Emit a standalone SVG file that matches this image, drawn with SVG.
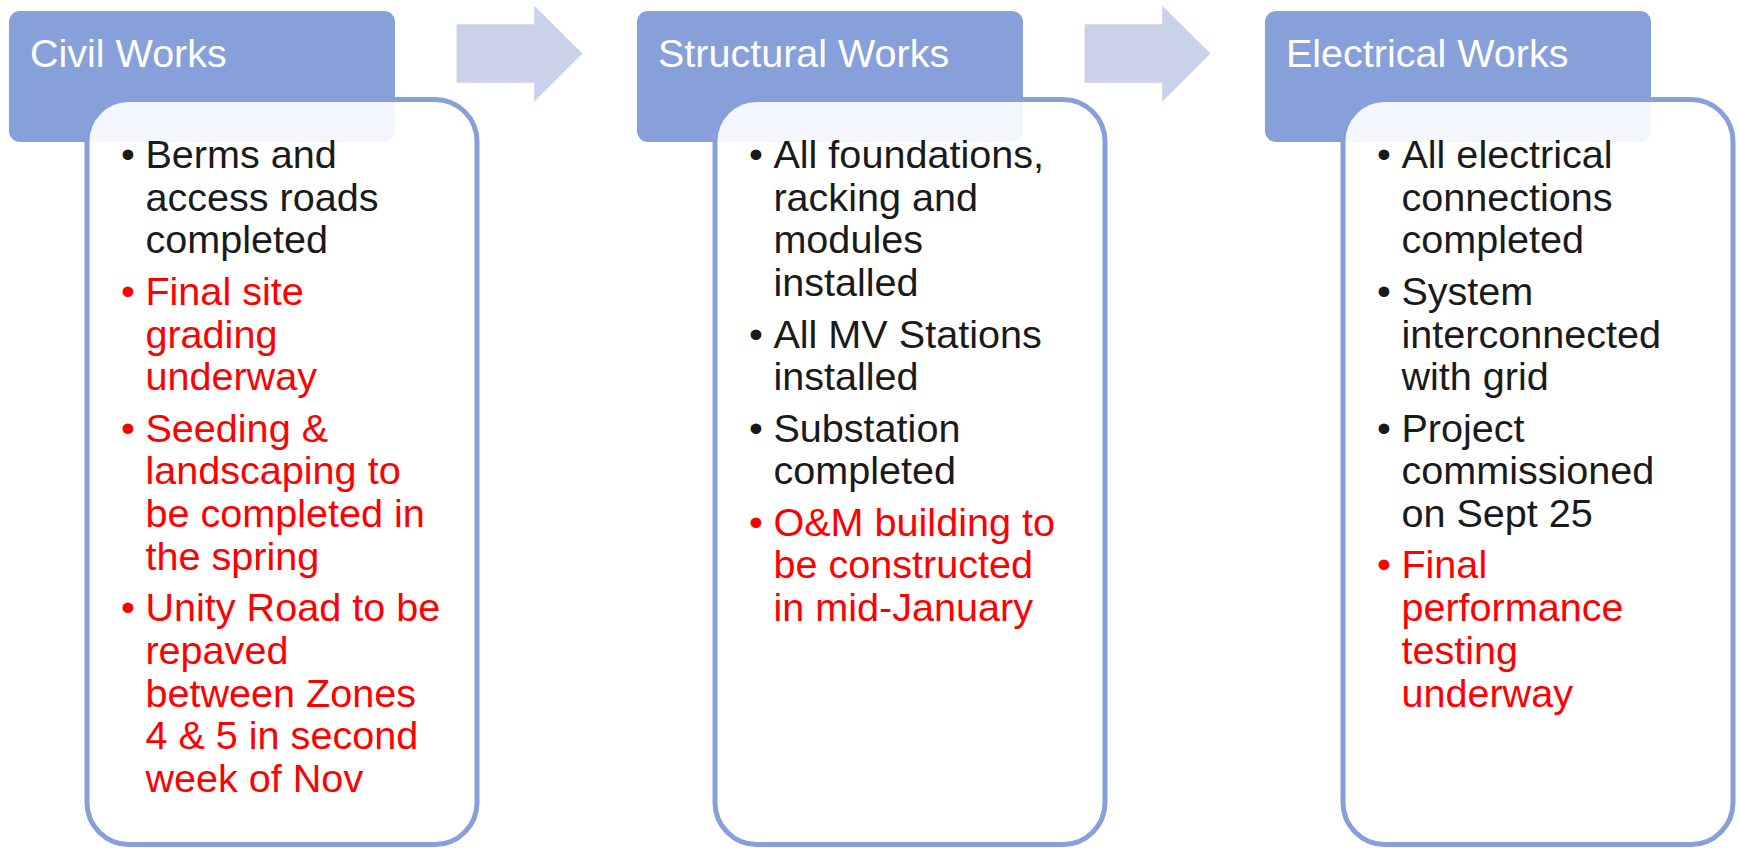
<svg xmlns="http://www.w3.org/2000/svg" width="1739" height="848" viewBox="0 0 1739 848">
<style>
.hdr{fill:#87A0DA;}
.body{fill:#FFFFFF;fill-opacity:0.9;stroke:#87A0DA;stroke-width:5;}
.arrow{fill:#C9D1EB;}
.ht{font-family:"Liberation Sans",Arial,sans-serif;font-size:39.5px;fill:#FFFFFF;}
.t{font-family:"Liberation Sans",Arial,sans-serif;font-size:39.6px;fill:#1A1A1A;}
.r{fill:#FF0000;}
</style>
<rect width="1739" height="848" fill="#FFFFFF"/>
<g id="connectors">
<polygon class="arrow" points="456.6,24.3 534.2,24.3 534.2,5.7 582.5,53.5 534.2,101.7 534.2,82.7 456.6,82.7"/>
<polygon class="arrow" points="1084.6,24.3 1162.2,24.3 1162.2,5.7 1210.5,53.5 1162.2,101.7 1162.2,82.7 1084.6,82.7"/>
</g>
<g id="civil">
<rect class="hdr" x="9" y="11" width="386" height="131" rx="11"/>
<rect class="body" x="87" y="99.5" width="390" height="745" rx="42"/>
<text class="ht" x="30" y="66.7">Civil Works</text>
<text class="t"><tspan x="121" y="168">•</tspan><tspan x="145.4" y="168">Berms and</tspan><tspan x="145.4" y="210.7">access roads</tspan><tspan x="145.4" y="253.4">completed</tspan></text>
<text class="t r"><tspan x="121" y="304.8">•</tspan><tspan x="145.4" y="304.8">Final site</tspan><tspan x="145.4" y="347.5">grading</tspan><tspan x="145.4" y="390.2">underway</tspan></text>
<text class="t r"><tspan x="121" y="441.6">•</tspan><tspan x="145.4" y="441.6">Seeding &amp;</tspan><tspan x="145.4" y="484.3">landscaping to</tspan><tspan x="145.4" y="527">be completed in</tspan><tspan x="145.4" y="569.7">the spring</tspan></text>
<text class="t r"><tspan x="121" y="621.1">•</tspan><tspan x="145.4" y="621.1">Unity Road to be</tspan><tspan x="145.4" y="663.8">repaved</tspan><tspan x="145.4" y="706.5">between Zones</tspan><tspan x="145.4" y="749.2">4 &amp; 5 in second</tspan><tspan x="145.4" y="791.9">week of Nov</tspan></text>
</g>
<g id="structural">
<rect class="hdr" x="637" y="11" width="386" height="131" rx="11"/>
<rect class="body" x="715" y="99.5" width="390" height="745" rx="42"/>
<text class="ht" x="658" y="66.7">Structural Works</text>
<text class="t"><tspan x="749" y="168">•</tspan><tspan x="773.4" y="168">All foundations,</tspan><tspan x="773.4" y="210.7">racking and</tspan><tspan x="773.4" y="253.4">modules</tspan><tspan x="773.4" y="296.1">installed</tspan></text>
<text class="t"><tspan x="749" y="347.5">•</tspan><tspan x="773.4" y="347.5">All MV Stations</tspan><tspan x="773.4" y="390.2">installed</tspan></text>
<text class="t"><tspan x="749" y="441.6">•</tspan><tspan x="773.4" y="441.6">Substation</tspan><tspan x="773.4" y="484.3">completed</tspan></text>
<text class="t r"><tspan x="749" y="535.7">•</tspan><tspan x="773.4" y="535.7">O&amp;M building to</tspan><tspan x="773.4" y="578.4">be constructed</tspan><tspan x="773.4" y="621.1">in mid-January</tspan></text>
</g>
<g id="electrical">
<rect class="hdr" x="1265" y="11" width="386" height="131" rx="11"/>
<rect class="body" x="1343" y="99.5" width="390" height="745" rx="42"/>
<text class="ht" x="1286" y="66.7">Electrical Works</text>
<text class="t"><tspan x="1377" y="168">•</tspan><tspan x="1401.4" y="168">All electrical</tspan><tspan x="1401.4" y="210.7">connections</tspan><tspan x="1401.4" y="253.4">completed</tspan></text>
<text class="t"><tspan x="1377" y="304.8">•</tspan><tspan x="1401.4" y="304.8">System</tspan><tspan x="1401.4" y="347.5">interconnected</tspan><tspan x="1401.4" y="390.2">with grid</tspan></text>
<text class="t"><tspan x="1377" y="441.6">•</tspan><tspan x="1401.4" y="441.6">Project</tspan><tspan x="1401.4" y="484.3">commissioned</tspan><tspan x="1401.4" y="527">on Sept 25</tspan></text>
<text class="t r"><tspan x="1377" y="578.4">•</tspan><tspan x="1401.4" y="578.4">Final</tspan><tspan x="1401.4" y="621.1">performance</tspan><tspan x="1401.4" y="663.8">testing</tspan><tspan x="1401.4" y="706.5">underway</tspan></text>
</g>
</svg>
